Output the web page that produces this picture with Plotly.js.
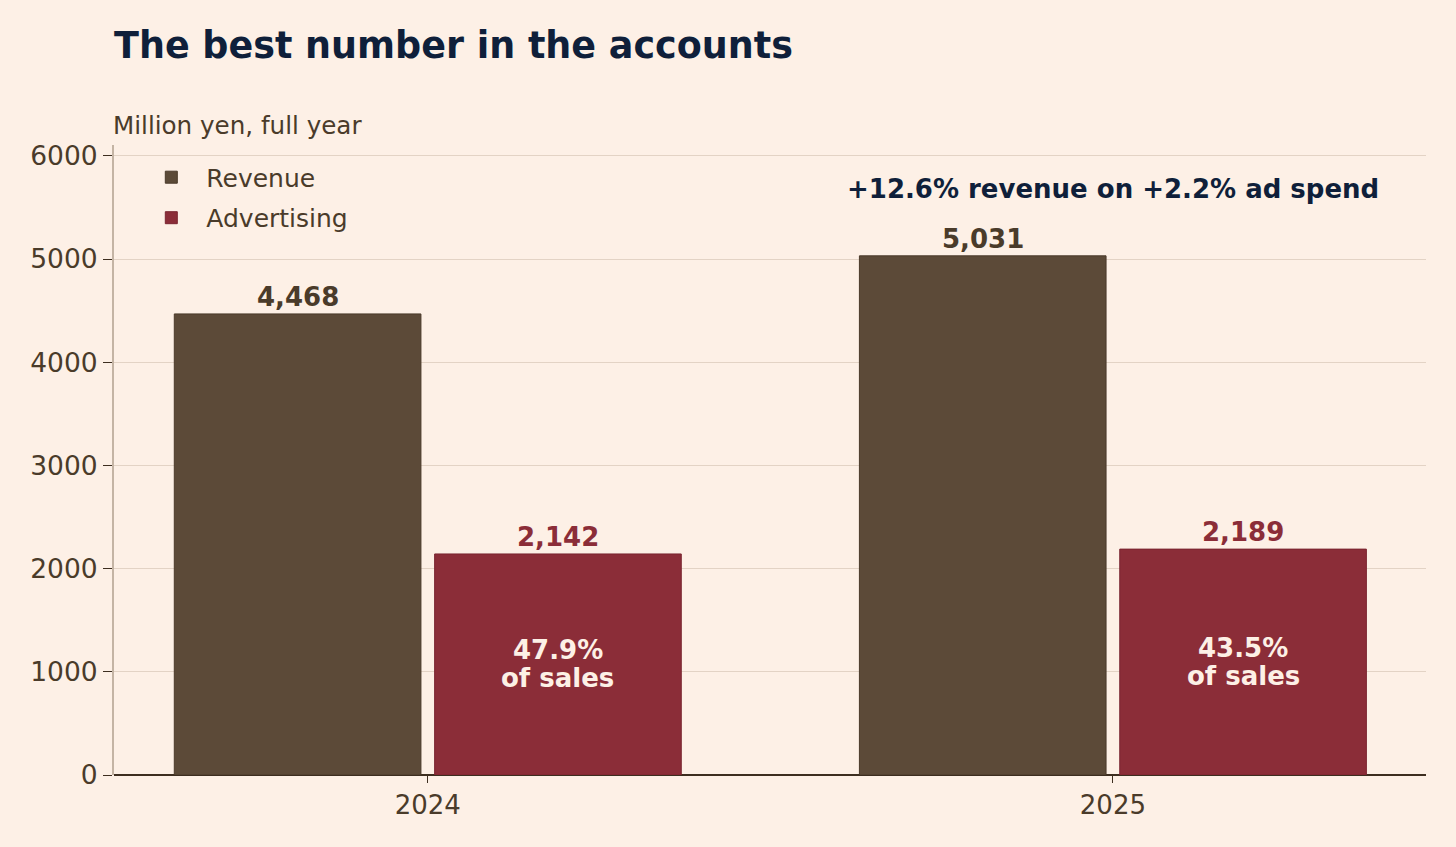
<!DOCTYPE html>
<html>
<head>
<meta charset="utf-8">
<script src="https://cdn.plot.ly/plotly-3.0.1.min.js"></script>
<style>
  html,body{margin:0;padding:0;background:#fdf0e6;}
  #chart{width:1456px;height:847px;}
</style>
</head>
<body>
<div id="chart"></div>
<script>
// data (million yen)
const years = ['2024', '2025']
const revenue = [4468, 5031]
const advertising = [2142, 2189]
const headline = '+12.6% revenue on +2.2% ad spend'

const bg = '#fdf0e6'
const brown = '#5c4a38'
const red = '#8b2d38'
const ink = '#4a3b2a'
const navy = '#0f1f3a'
const F = 'DejaVu Sans'

const fmt = v => v.toLocaleString('en-US')
const share = years.map((_, i) => (100 * advertising[i] / revenue[i]).toFixed(1) + '%')

const revTrace = {
    type: 'bar', name: 'Revenue', legendgroup: 'a',
    x: years, y: revenue,
    width: 0.36, offset: -0.37,
    marker: {color: brown, line: {color: '#4a3a2a', width: 1}},
    hoverinfo: 'skip'
}
const adTrace = {
    type: 'bar', name: 'Advertising', legendgroup: 'b',
    x: years, y: advertising,
    width: 0.36, offset: 0.01,
    marker: {color: red, line: {color: '#7a2530', width: 1}},
    hoverinfo: 'skip'
}

// value labels above each bar, share of sales inside the ad bars
let notes = []
years.forEach((yr, i) => {
    notes.push({x: i - 0.19, y: revenue[i], xref: 'x', yref: 'y', text: '<b>' + fmt(revenue[i]) + '</b>',
        showarrow: false, yanchor: 'bottom', yshift: 0,
        font: {family: F, size: 26, color: ink}})
    notes.push({x: i + 0.19, y: advertising[i], xref: 'x', yref: 'y', text: '<b>' + fmt(advertising[i]) + '</b>',
        showarrow: false, yanchor: 'bottom', yshift: 0,
        font: {family: F, size: 26, color: red}})
    notes.push({x: i + 0.19, y: advertising[i] / 2, xref: 'x', yref: 'y', text: '<b>' + share[i] + '</b>',
        showarrow: false, yshift: 14, font: {family: F, size: 26, color: bg}})
    notes.push({x: i + 0.19, y: advertising[i] / 2, xref: 'x', yref: 'y', text: '<b>of sales</b>',
        showarrow: false, yshift: -14, font: {family: F, size: 26, color: bg}})
})
notes.push({x: 1, y: 5680, xref: 'x', yref: 'y', text: '<b>' + headline + '</b>',
    showarrow: false, font: {family: F, size: 26, color: navy}})
notes.push({x: 0, y: 1 + 20 / 630, xref: 'paper', yref: 'paper', xanchor: 'left', yanchor: 'middle',
    xshift: -3, text: 'Million yen, full year', showarrow: false,
    font: {family: F, size: 24.6, color: ink}})

const layout = {
    width: 1456, height: 847,
    paper_bgcolor: bg, plot_bgcolor: bg,
    font: {family: F, color: ink, size: 26},
    margin: {l: 114, r: 30, t: 145, b: 72},
    title: {text: '<b>The best number in the accounts</b>', x: 114 / 1456, xanchor: 'left',
        y: 1 - 45 / 847, yanchor: 'middle',
        font: {family: F, size: 36.5, color: navy}},
    showlegend: true,
    legend: {x: 0.017, y: 0.985, xanchor: 'left', yanchor: 'top', bgcolor: 'rgba(0,0,0,0)',
        traceorder: 'grouped', tracegroupgap: 5, itemwidth: 60,
        font: {size: 25, color: ink}},
    xaxis: {type: 'category', range: [-0.458, 1.457], ticks: 'outside', ticklen: 7,
        tickcolor: '#3d2e20', showgrid: false, zeroline: false,
        showline: false, tickfont: {size: 26, color: ink}},
    yaxis: {range: [0, 6105], tickvals: [0, 1000, 2000, 3000, 4000, 5000, 6000],
        ticks: 'outside', ticklen: 9, tickcolor: '#3d2e20', showgrid: true,
        gridcolor: '#e3d3c5', gridwidth: 1, zeroline: true, zerolinecolor: '#3d2e20',
        zerolinewidth: 2, showline: true, linecolor: '#c4b4a4', linewidth: 2,
        tickfont: {size: 26.5, color: ink}},
    annotations: notes
}

Plotly.newPlot(document.getElementById('chart'), [revTrace, adTrace], layout, {displayModeBar: false})
</script>
</body>
</html>
